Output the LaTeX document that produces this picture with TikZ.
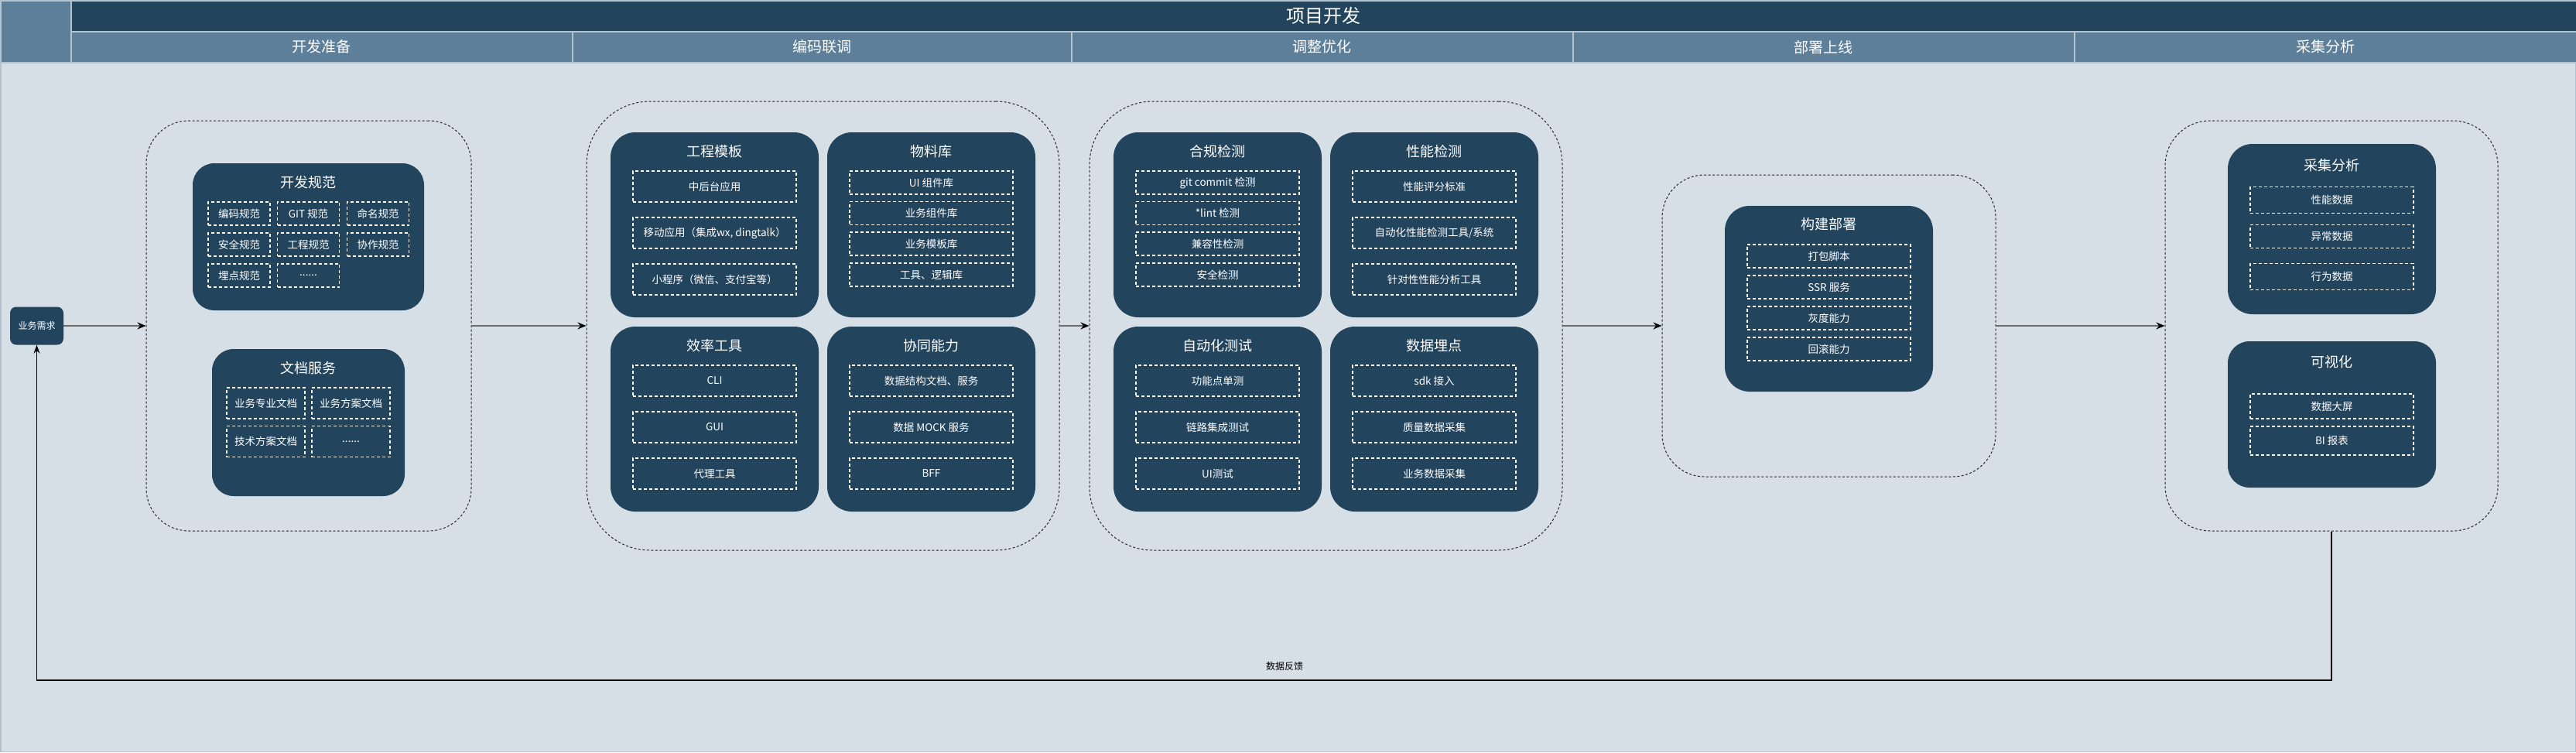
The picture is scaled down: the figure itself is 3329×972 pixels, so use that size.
\documentclass[tikz,border=0pt]{standalone}
\usepackage{fontspec}
\setmainfont{Noto Sans CJK SC}
\usetikzlibrary{arrows.meta}
\definecolor{dark}{HTML}{23445D}
\definecolor{mid}{HTML}{5D7F99}
\definecolor{bgc}{HTML}{D6DEE6}
\definecolor{hline}{HTML}{B4C3D0}
\definecolor{conn}{HTML}{6B6B6B}
\begin{document}
\begin{tikzpicture}[x=1pt,y=-1pt,
  hdr/.style={fill=dark,draw=hline,line width=1.5pt,text=white,inner sep=0pt,font=\fontsize{24}{28}\selectfont},
  lane/.style={fill=mid,draw=hline,line width=1.5pt,text=white,inner sep=0pt,minimum height=40,font=\fontsize{19}{22}\selectfont},
  outer/.style={draw=black!85,line width=1pt,dash pattern=on 3pt off 2.5pt,inner sep=0pt},
  darkbox/.style={fill=dark,draw=none,inner sep=0pt,rounded corners=32},
  ttl/.style={text=white,inner sep=0pt,font=\fontsize{18}{22}\selectfont},
  item/.style={draw=white,line width=1.1pt,dash pattern=on 4pt off 3pt,text=white,inner sep=0pt,font=\fontsize{13.5}{16}\selectfont},
  conn/.style={draw=conn,line width=2pt,-{Stealth[length=11pt,width=9pt,color=black]}},
  fb/.style={draw=black,line width=1.2pt,-{Stealth[length=11pt,width=8pt]}}
]
\fill[bgc] (0,0) rectangle (3329,972);
\useasboundingbox (0,0) rectangle (3329,972);
\draw[hline,line width=1.5pt] (0.75,0.75) rectangle (3328.25,971.25);

% header
\node[hdr,anchor=north west,minimum width=3238,minimum height=40] (head) at (91,0) {项目开发};
\node[fill=mid,draw=hline,line width=1.5pt,anchor=north west,minimum width=91,minimum height=80,inner sep=0pt] (corner) at (0,0) {};
\node[lane,anchor=north west,minimum width=648] (l1) at (91,40) {开发准备};
\node[lane,anchor=north west,minimum width=645] (l2) at (739,40) {编码联调};
\node[lane,anchor=north west,minimum width=648] (l3) at (1384,40) {调整优化};
\node[lane,anchor=north west,minimum width=648] (l4) at (2032,40) {部署上线};
\node[lane,anchor=north west,minimum width=649] (l5) at (2680,40) {采集分析};

% start node
\node[fill=dark,rounded corners=8,minimum width=69,minimum height=49,inner sep=0pt,text=white,font=\fontsize{12}{14}\selectfont] (req) at (47.5,421) {业务需求};

% stage 1
\node[outer,rounded corners=55,minimum width=420,minimum height=530] (o1) at (399,421) {};
\node[darkbox,rounded corners=28,minimum width=299,minimum height=190] (kfgf) at (398.5,306) {};
\node[ttl] (kfgf-t) at (398.5,236) {开发规范};
\node[item,minimum width=80,minimum height=30] (k11) at (309,276) {编码规范};
\node[item,minimum width=80,minimum height=30] (k12) at (398.5,276) {GIT 规范};
\node[item,minimum width=80,minimum height=30] (k13) at (488.5,276) {命名规范};
\node[item,minimum width=80,minimum height=30] (k21) at (309,316) {安全规范};
\node[item,minimum width=80,minimum height=30] (k22) at (398.5,316) {工程规范};
\node[item,minimum width=80,minimum height=30] (k23) at (488.5,316) {协作规范};
\node[item,minimum width=80,minimum height=30] (k31) at (309,356) {埋点规范};
\node[item,minimum width=80,minimum height=30] (k32) at (398.5,356) {......};

\node[darkbox,rounded corners=28,minimum width=249,minimum height=190] (wdfw) at (398.5,546) {};
\node[ttl] (wdfw-t) at (398.5,476) {文档服务};
\node[item,minimum width=101,minimum height=40] (w11) at (343.5,521) {业务专业文档};
\node[item,minimum width=101,minimum height=40] (w12) at (453.5,521) {业务方案文档};
\node[item,minimum width=101,minimum height=40] (w21) at (343.5,570.5) {技术方案文档};
\node[item,minimum width=101,minimum height=40] (w22) at (453.5,570.5) {......};

% stage 2
\node[outer,rounded corners=82,minimum width=611,minimum height=580] (o2) at (1063.5,421) {};
\node[darkbox,minimum width=269,minimum height=239] (gcmb) at (923.5,290.5) {};
\node[ttl] (gcmb-t) at (923.5,196) {工程模板};
\node[item,minimum width=211,minimum height=40] (g1) at (923.5,241) {中后台应用};
\node[item,minimum width=211,minimum height=40] (g2) at (923.5,301) {移动应用（集成wx, dingtalk）};
\node[item,minimum width=211,minimum height=40] (g3) at (923.5,361) {小程序（微信、支付宝等）};

\node[darkbox,minimum width=269,minimum height=239] (wlk) at (1203.5,290.5) {};
\node[ttl] (wlk-t) at (1203.5,196) {物料库};
\node[item,minimum width=211,minimum height=30] (m1) at (1203.5,236) {UI 组件库};
\node[item,minimum width=211,minimum height=30] (m2) at (1203.5,275.5) {业务组件库};
\node[item,minimum width=211,minimum height=30] (m3) at (1203.5,315) {业务模板库};
\node[item,minimum width=211,minimum height=30] (m4) at (1203.5,355) {工具、逻辑库};

\node[darkbox,minimum width=269,minimum height=239] (xlgj) at (923.5,541.5) {};
\node[ttl] (xlgj-t) at (923.5,447) {效率工具};
\node[item,minimum width=211,minimum height=40] (x1) at (923.5,492) {CLI};
\node[item,minimum width=211,minimum height=40] (x2) at (923.5,552) {GUI};
\node[item,minimum width=211,minimum height=40] (x3) at (923.5,612) {代理工具};

\node[darkbox,minimum width=269,minimum height=239] (xtnl) at (1203.5,541.5) {};
\node[ttl] (xtnl-t) at (1203.5,447) {协同能力};
\node[item,minimum width=211,minimum height=40] (c1) at (1203.5,492) {数据结构文档、服务};
\node[item,minimum width=211,minimum height=40] (c2) at (1203.5,552) {数据 MOCK 服务};
\node[item,minimum width=211,minimum height=40] (c3) at (1203.5,612) {BFF};

% stage 3
\node[outer,rounded corners=82,minimum width=611,minimum height=580] (o3) at (1713.5,421) {};
\node[darkbox,minimum width=269,minimum height=239] (hgjc) at (1573.5,290.5) {};
\node[ttl] (hgjc-t) at (1573.5,196) {合规检测};
\node[item,minimum width=211,minimum height=30] (h1) at (1573.5,236) {git commit 检测};
\node[item,minimum width=211,minimum height=30] (h2) at (1573.5,275.5) {*lint 检测};
\node[item,minimum width=211,minimum height=30] (h3) at (1573.5,315) {兼容性检测};
\node[item,minimum width=211,minimum height=30] (h4) at (1573.5,355) {安全检测};

\node[darkbox,minimum width=269,minimum height=239] (xnjc) at (1853.5,290.5) {};
\node[ttl] (xnjc-t) at (1853.5,196) {性能检测};
\node[item,minimum width=211,minimum height=40] (p1) at (1853.5,241) {性能评分标准};
\node[item,minimum width=211,minimum height=40] (p2) at (1853.5,301) {自动化性能检测工具/系统};
\node[item,minimum width=211,minimum height=40] (p3) at (1853.5,361) {针对性性能分析工具};

\node[darkbox,minimum width=269,minimum height=239] (zdhcs) at (1573.5,541.5) {};
\node[ttl] (zdhcs-t) at (1573.5,447) {自动化测试};
\node[item,minimum width=211,minimum height=40] (t1) at (1573.5,492) {功能点单测};
\node[item,minimum width=211,minimum height=40] (t2) at (1573.5,552) {链路集成测试};
\node[item,minimum width=211,minimum height=40] (t3) at (1573.5,612) {UI测试};

\node[darkbox,minimum width=269,minimum height=239] (sjmd) at (1853.5,541.5) {};
\node[ttl] (sjmd-t) at (1853.5,447) {数据埋点};
\node[item,minimum width=211,minimum height=40] (s1) at (1853.5,492) {sdk 接入};
\node[item,minimum width=211,minimum height=40] (s2) at (1853.5,552) {质量数据采集};
\node[item,minimum width=211,minimum height=40] (s3) at (1853.5,612) {业务数据采集};

% stage 4
\node[outer,rounded corners=55,minimum width=431,minimum height=390] (o4) at (2363.5,421) {};
\node[darkbox,minimum width=269,minimum height=240] (gjbs) at (2363.5,386) {};
\node[ttl] (gjbs-t) at (2363.5,290) {构建部署};
\node[item,minimum width=211,minimum height=30] (b1) at (2363.5,331) {打包脚本};
\node[item,minimum width=211,minimum height=30] (b2) at (2363.5,371) {SSR 服务};
\node[item,minimum width=211,minimum height=30] (b3) at (2363.5,411) {灰度能力};
\node[item,minimum width=211,minimum height=30] (b4) at (2363.5,451) {回滚能力};

% stage 5
\node[outer,rounded corners=58,minimum width=430,minimum height=530] (o5) at (3013,421) {};
\node[darkbox,minimum width=269,minimum height=220] (cjfx) at (3013.5,296) {};
\node[ttl] (cjfx-t) at (3013.5,214) {采集分析};
\node[item,minimum width=211,minimum height=34] (a1) at (3013.5,258.5) {性能数据};
\node[item,minimum width=211,minimum height=30] (a2) at (3013.5,305.5) {异常数据};
\node[item,minimum width=211,minimum height=34] (a3) at (3013.5,357.5) {行为数据};

\node[darkbox,rounded corners=28,minimum width=269,minimum height=189] (ksh) at (3013.5,535.5) {};
\node[ttl] (ksh-t) at (3013.5,468) {可视化};
\node[item,minimum width=211,minimum height=32] (v1) at (3013.5,525) {数据大屏};
\node[item,minimum width=211,minimum height=37] (v2) at (3013.5,569.5) {BI 报表};

% connectors
\draw[conn] (req.east) -- (o1.west);
\draw[conn] (o1.east) -- (o2.west);
\draw[conn] (o2.east) -- (o3.west);
\draw[conn] (o3.east) -- (o4.west);
\draw[conn] (o4.east) -- (o5.west);
\coordinate (fbr) at (3013,879);
\coordinate (fbl) at (47.5,879);
\draw[fb] (o5.south) -- (fbr) -- (fbl) -- (req.south);
\node[inner sep=0pt,text=black,font=\fontsize{12}{14}\selectfont] (fbt) at (1660,861) {数据反馈};
\end{tikzpicture}
\end{document}
